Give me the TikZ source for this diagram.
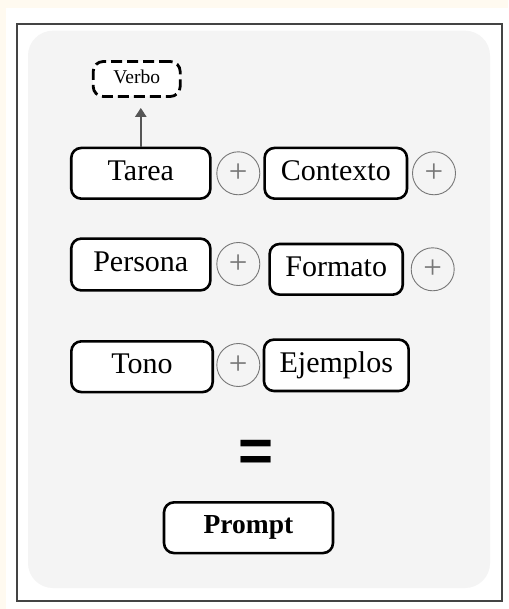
\documentclass[tikz,border=0pt]{standalone}
\usepackage{fontspec}
\setmainfont{Liberation Serif}
\newfontfamily\eqfont{Liberation Sans}
\usetikzlibrary{arrows.meta}
\definecolor{cream}{HTML}{FFFAF0}
\definecolor{panel}{HTML}{F4F4F4}
\definecolor{framegray}{HTML}{444444}
\definecolor{plusgray}{HTML}{777777}
\definecolor{arrowgray}{HTML}{555555}
\begin{document}
\begin{tikzpicture}[x=1pt,y=-1pt,
  card/.style={draw=black, line width=2.6pt, rounded corners=10pt, fill=white,
    font=\fontsize{30}{31}\selectfont, text height=21pt, text depth=7pt, inner sep=0pt,
    minimum height=50.7pt},
  plussign/.style={circle, draw=plusgray, line width=0.9pt, minimum size=43pt, inner sep=0pt,
    text=plusgray, font=\fontsize{33}{33}\selectfont},
  verbobox/.style={draw=black, line width=2.8pt, dash pattern=on 11pt off 5pt, rounded corners=10pt,
    fill=white, font=\fontsize{19.5}{20}\selectfont, text height=13pt, text depth=4.3pt,
    inner sep=0pt, minimum width=87pt, minimum height=35pt},
  link/.style={draw=arrowgray, line width=2.3pt, -{Triangle[length=9pt,width=11pt]}}
]
\useasboundingbox (0,0) rectangle (508,609);
\fill[cream] (0,0) rectangle (508,609);
\fill[white] (6,8) rectangle (508,609);
\draw[framegray, line width=2pt] (17.3,24) rectangle (501.7,600.5);
\fill[panel, rounded corners=25pt] (28,30.7) rectangle (490,588);

\node[verbobox] (verbo) at (136.7,79) {Verbo};

\node[card, minimum width=139.1pt] (tarea) at (140.8,173.3) {Tarea};
\node[plussign] (p1) at (238.3,173.3) {+};
\node[card, minimum width=142.4pt] (contexto) at (335.8,173.3) {Contexto};
\node[plussign] (p2) at (434,173.3) {+};

\node[card, minimum width=139.1pt, minimum height=51.8pt] (persona) at (140.8,264.5) {Persona};
\node[plussign] (p3) at (238.3,264) {+};
\node[card, minimum width=133.1pt] (formato) at (336.2,269.3) {Formato};
\node[plussign] (p4) at (432.7,269.3) {+};

\node[card, minimum width=141.4pt] (tono) at (142,366.7) {Tono};
\node[plussign] (p5) at (238.3,365) {+};
\node[card, minimum width=144.7pt, minimum height=51.4pt] (ejemplos) at (336.3,365.3) {Ejemplos};

\node[font=\eqfont\bfseries\fontsize{60}{60}\selectfont, anchor=base, inner sep=0pt] (eq) at (256.3,471.3) {=};

\node[card, minimum width=169pt, font=\bfseries\fontsize{27.5}{28}\selectfont, text height=18.5pt, text depth=7pt] (prompt) at (248.5,527.7) {Prompt};

\draw[link, shorten >=10pt] (tarea.north) -- (tarea.north |- verbo.south);
\end{tikzpicture}
\end{document}
